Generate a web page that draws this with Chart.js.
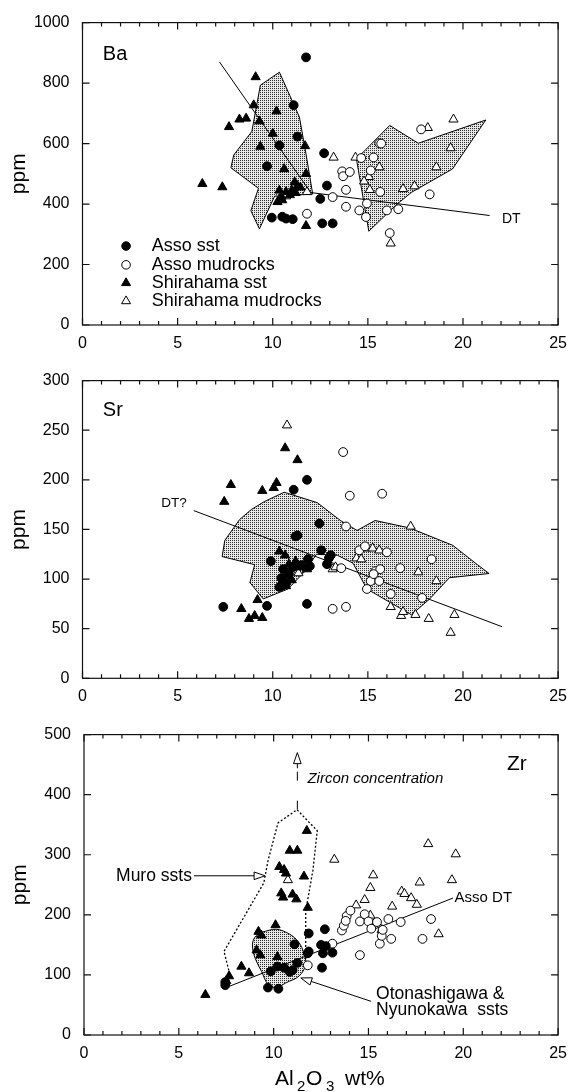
<!DOCTYPE html>
<html>
<head>
<meta charset="utf-8">
<script src="https://cdn.jsdelivr.net/npm/chart.js@4.4.1/dist/chart.umd.min.js"></script>
<style>
  html, body { margin: 0; padding: 0; background: #fff; }
  body { width: 576px; height: 1092px; position: relative; overflow: hidden; }
  .painel { position: absolute; left: 0; width: 576px; }
</style>
</head>
<body>
<div class="painel" style="top:0;height:358px"><canvas id="graficoBa"></canvas></div>
<div class="painel" style="top:358px;height:354px"><canvas id="graficoSr"></canvas></div>
<div class="painel" style="top:712px;height:380px"><canvas id="graficoZr"></canvas></div>
<script>
const fonte = '"Liberation Sans", Arial, Helvetica, sans-serif';

const series = ["Asso sst", "Asso mudrocks", "Shirahama sst", "Shirahama mudrocks"];
const alLimites = [0, 25];
const alPasso = 5;
const baLimites = [0, 1000];
const baPasso = 200;
const srLimites = [0, 300];
const srPasso = 50;
const zrLimites = [0, 500];
const zrPasso = 100;

// Ba (ppm) x Al2O3 (wt%)
const baAssoSst = [[11.75,885],[11.1,727],[11.3,623],[10.35,594],[9.7,525],[12.7,568],[12.85,461],[12.5,417],[9.95,355],[10.5,358],[10.7,352],[11.05,350],[12.6,336],[13.15,336]];
const baAssoMud = [[11.8,368],[13.15,423],[13.65,508],[13.7,492],[14.05,506],[13.85,447],[13.85,391],[14.55,379],[14.9,357],[14.95,402],[15.15,511],[15.3,554],[15.6,601],[15.7,600],[15.65,440],[16.0,379],[16.6,383],[16.15,304],[17.8,647],[18.25,432],[14.65,552]];
const baShiraSst = [[6.3,467],[7.35,456],[7.7,655],[8.25,680],[8.6,683],[9.1,820],[9.0,727],[9.3,674],[9.35,590],[10.2,707],[10.0,633],[10.6,516],[11.7,592],[11.75,500],[11.15,472],[11.3,460],[10.35,445],[10.25,407],[10.5,413],[10.9,430],[11.0,445],[11.2,437],[11.75,328],[10.7,440],[11.45,455],[10.45,425]];
const baShiraMud = [[10.7,426],[11.8,440],[13.2,554],[14.35,554],[15.6,522],[15.05,490],[14.8,475],[15.1,447],[16.85,450],[17.45,459],[18.15,652],[19.5,680],[19.35,585],[18.6,522],[16.2,270]];
const baCampoSst = [[10.35,836],[11.4,688],[11.75,565],[12.1,433],[10.1,426],[9.3,318],[8.85,378],[9.25,452],[7.8,520],[7.95,562],[8.9,640],[9.35,793]];
const baCampoMud = [[16.15,660],[17.65,601],[21.2,678],[19.45,516],[17.3,439],[16.5,398],[15.05,310],[14.4,549]];
const baDT = [[7.2,870],[12.0,438],[21.4,362]];

// Sr (ppm) x Al2O3 (wt%)
const srAssoSst = [[7.4,72],[9.7,73],[11.8,75],[11.8,200],[11.1,190],[12.45,156],[11.3,144],[9.9,118],[12.55,129],[13.05,124],[12.85,115],[11.85,120],[10.55,110],[10.45,101],[10.35,92],[10.85,105],[11.05,112],[11.5,114],[12.95,121],[10.7,96],[11.95,113],[11.2,143]];
const srAssoMud = [[13.7,228],[14.05,184],[15.75,186],[13.85,153],[13.15,70],[13.85,72],[13.6,111],[14.55,129],[14.85,133],[16.0,127],[18.35,120],[16.7,111],[15.4,108],[15.65,110],[15.15,98],[15.6,98],[14.95,90],[16.2,85],[17.85,81],[15.3,105]];
const srShiraSst = [[7.45,178],[7.8,195],[9.45,189],[10.2,197],[10.05,192],[10.65,232],[11.3,220],[8.35,70],[8.75,60],[9.05,63],[9.45,61],[9.2,79],[10.35,128],[10.65,124],[11.2,118],[11.0,99],[10.4,92],[10.7,93],[11.8,110],[11.4,112],[10.85,115]];
const srShiraMud = [[10.75,255],[17.25,153],[17.65,107],[18.6,98],[14.9,131],[15.25,131],[15.6,129],[14.4,121],[14.65,120],[13.15,110],[16.2,72],[16.75,63],[16.85,67],[17.5,64],[18.2,60],[19.35,46],[19.55,64],[11.35,106],[13.3,112]];
const srCampo = [[10.6,187.5],[12.34,177],[13.56,159],[14.43,149],[15.38,159],[17.2,151.5],[19.46,134],[20.76,114.5],[21.37,105.6],[19.29,101.4],[18.25,80],[17.29,64],[14.95,90],[14.22,116],[13.4,124],[12.3,125],[11.7,108],[10.8,90],[9.5,80],[8.8,96.5],[9.05,114.5],[7.34,122.7],[7.48,139],[8.26,160],[8.87,170],[9.55,178]];
const srDT = [[5.85,169],[22.05,52]];

// Zr (ppm) x Al2O3 (wt%)
const zrAssoSst = [[7.45,83],[7.45,88],[9.7,79],[10.25,77],[9.85,106],[10.2,114],[10.55,112],[10.85,105],[11.1,151],[11.85,169],[11.85,139],[12.55,112],[12.7,176],[12.5,150],[13.1,137],[12.6,136],[11.8,136],[11.25,120],[11.0,108],[12.75,148]];
const zrAssoMud = [[13.1,152],[11.8,116],[14.55,133],[13.6,174],[13.7,182],[13.85,198],[14.05,207],[13.8,190],[14.55,189],[14.8,201],[15.0,189],[15.15,177],[15.45,188],[15.6,152],[15.7,165],[15.75,175],[16.05,193],[16.2,160],[16.7,188],[17.85,160],[18.3,193]];
const zrShiraSst = [[6.4,67],[7.65,98],[8.3,114],[8.7,103],[9.2,172],[9.35,166],[10.1,183],[9.1,141],[9.3,133],[10.2,130],[10.3,280],[10.55,275],[10.65,269],[10.85,307],[11.25,307],[11.75,340],[11.6,264],[10.4,236],[10.5,229],[11.0,234],[11.2,226],[11.8,212],[7.5,90]];
const zrShiraMud = [[10.75,258],[13.2,292],[18.15,318],[19.6,301],[15.25,266],[15.1,245],[14.8,225],[14.35,216],[15.1,199],[16.25,214],[16.75,239],[16.9,235],[17.25,228],[17.55,217],[17.7,254],[19.4,258],[18.7,168],[15.7,175]];
const zrMuro = [[7.69,101],[7.38,139],[9.48,253],[9.71,291],[10.23,353],[11.23,375],[12.3,340],[12.07,274],[11.69,206],[11.69,125]];
const zrOtonashigawa = [[9.36,171],[10.14,176],[10.83,168],[11.31,155],[11.6,136],[11.69,117],[11.34,98],[10.66,87],[10.14,79],[9.71,84],[9.36,106],[9.02,128],[8.88,150],[9.02,163]];
const zrAssoDT = [[7.7,81.5],[19.46,228]];

const simbolos = [
  { forma: "circle", cheio: true },
  { forma: "circle", cheio: false },
  { forma: "triangle", cheio: true },
  { forma: "triangle", cheio: false }
];

const pts = arr => arr.map(p => ({ x: p[0], y: p[1] }));
const fechado = arr => pts(arr.concat([arr[0]]));

function pontilhado(ctx) {
  const c = document.createElement("canvas");
  c.width = 2; c.height = 2;
  const g = c.getContext("2d");
  g.fillStyle = "#e8e8e8";
  g.fillRect(0, 0, 2, 2);
  g.fillStyle = "#2a2a2a";
  g.fillRect(0, 0, 1, 1);
  return ctx.createPattern(c, "repeat");
}

function dsPontos(data, i) {
  const s = simbolos[i];
  return {
    type: "scatter",
    label: series[i],
    data: pts(data),
    pointStyle: s.forma,
    pointRadius: s.forma === "triangle" ? 5.3 : 4.4,
    pointBackgroundColor: s.cheio ? "#000" : "#fff",
    pointBorderColor: "#000",
    pointBorderWidth: 1,
    order: 1
  };
}

function dsLinha(data, extra) {
  return Object.assign({
    type: "line",
    data: pts(data),
    borderColor: "#000",
    borderWidth: 1,
    pointRadius: 0,
    fill: false,
    tension: 0,
    order: 5
  }, extra || {});
}

function dsCampo(data, textura, extra) {
  return Object.assign({
    type: "line",
    data: fechado(data),
    borderColor: "#000",
    borderWidth: 1,
    backgroundColor: textura,
    fill: "shape",
    pointRadius: 0,
    tension: 0,
    order: 10
  }, extra || {});
}

function marcador(ctx, s, x, y) {
  ctx.beginPath();
  if (s.forma === "circle") {
    ctx.arc(x, y, 4.3, 0, Math.PI * 2);
  } else {
    const r = 5.2;
    for (let i = 0; i < 3; i++) {
      const a = i * 2 * Math.PI / 3;
      const px = x + Math.sin(a) * r, py = y - Math.cos(a) * r;
      if (i) ctx.lineTo(px, py); else ctx.moveTo(px, py);
    }
    ctx.closePath();
  }
  ctx.fillStyle = s.cheio ? "#000" : "#fff";
  ctx.fill();
  ctx.lineWidth = 1;
  ctx.strokeStyle = "#000";
  ctx.stroke();
}

function seta(ctx, x1, y1, x2, y2, tracejado, cabeca) {
  const ang = Math.atan2(y2 - y1, x2 - x1);
  const comp = 11, meia = 3.8;
  const bx = cabeca ? x2 - Math.cos(ang) * comp : x2;
  const by = cabeca ? y2 - Math.sin(ang) * comp : y2;
  ctx.save();
  ctx.strokeStyle = "#000";
  ctx.lineWidth = 1;
  ctx.setLineDash(tracejado || []);
  ctx.beginPath();
  ctx.moveTo(x1, y1);
  ctx.lineTo(bx, by);
  ctx.stroke();
  ctx.setLineDash([]);
  if (cabeca) {
    ctx.beginPath();
    ctx.moveTo(x2, y2);
    ctx.lineTo(bx + Math.sin(ang) * meia, by - Math.cos(ang) * meia);
    ctx.lineTo(bx - Math.sin(ang) * meia, by + Math.cos(ang) * meia);
    ctx.closePath();
    ctx.fillStyle = "#fff";
    ctx.fill();
    ctx.stroke();
  }
  ctx.restore();
}

function criarGrafico(id, datasets, eixoY, geo, extras) {
  const moldura = {
    id: "moldura",
    afterDatasetsDraw(chart) {
      const { ctx, chartArea: a, scales: { x, y } } = chart;
      ctx.save();
      ctx.strokeStyle = "#111";
      ctx.lineWidth = 1.2;
      ctx.strokeRect(a.left, a.top, a.right - a.left, a.bottom - a.top);
      ctx.beginPath();
      for (let v = x.min; v <= x.max; v += 1) {
        const px = x.getPixelForValue(v);
        const len = v % 5 === 0 ? 7 : 4;
        ctx.moveTo(px, a.bottom); ctx.lineTo(px, a.bottom - len);
        ctx.moveTo(px, a.top); ctx.lineTo(px, a.top + len);
      }
      y.ticks.forEach(t => {
        const py = y.getPixelForValue(t.value);
        ctx.moveTo(a.left, py); ctx.lineTo(a.left + 7, py);
        ctx.moveTo(a.right, py); ctx.lineTo(a.right - 7, py);
      });
      ctx.stroke();

      // ppm
      ctx.translate(geo.ppmX, (a.top + a.bottom) / 2);
      ctx.rotate(-Math.PI / 2);
      ctx.fillStyle = "#000";
      ctx.font = "21px " + fonte;
      ctx.textAlign = "center";
      ctx.textBaseline = "middle";
      ctx.fillText("ppm", 0, 0);
      ctx.restore();
    }
  };

  const anotacoes = {
    id: "anotacoes",
    afterDatasetsDraw(chart) {
      const { ctx, chartArea: a, scales: { x, y } } = chart;
      ctx.save();
      ctx.fillStyle = "#000";
      ctx.textBaseline = "middle";
      ctx.textAlign = "left";
      (extras.textos || []).forEach(t => {
        ctx.font = (t.italico ? "italic " : "") + t.px + "px " + fonte;
        ctx.fillText(t.t, x.getPixelForValue(t.x), y.getPixelForValue(t.y));
      });
      (extras.setas || []).forEach(s => {
        seta(ctx, x.getPixelForValue(s.de[0]), y.getPixelForValue(s.de[1]),
          x.getPixelForValue(s.para[0]), y.getPixelForValue(s.para[1]),
          s.tracejado, s.cabeca !== false);
      });
      if (extras.legenda) {
        const L = extras.legenda;
        ctx.font = "18px " + fonte;
        series.forEach((nome, i) => {
          const py = y.getPixelForValue(L.ys[i]);
          marcador(ctx, simbolos[i], x.getPixelForValue(L.x), py);
          ctx.fillStyle = "#000";
          ctx.fillText(nome, x.getPixelForValue(L.tx), py);
        });
      }
      if (extras.tituloX) {
        const base = a.bottom + 50;
        const x0 = a.left;
        ctx.textBaseline = "alphabetic";
        ctx.font = "21px " + fonte;
        ctx.fillText("Al", x0 + 191, base);
        ctx.fillText("O", x0 + 222, base);
        ctx.fillText("wt%", x0 + 261, base);
        ctx.font = "15px " + fonte;
        ctx.fillText("2", x0 + 213, base + 6);
        ctx.fillText("3", x0 + 242, base + 6);
      }
      ctx.restore();
    }
  };

  const ctx = document.getElementById(id).getContext("2d");
  return new Chart(ctx, {
    type: "scatter",
    data: { datasets: datasets(pontilhado(ctx)) },
    options: {
      responsive: true,
      maintainAspectRatio: false,
      animation: false,
      events: [],
      layout: { padding: { top: geo.topo, right: geo.direita, left: 0, bottom: 0 } },
      plugins: {
        legend: { display: false },
        tooltip: { enabled: false }
      },
      scales: {
        x: {
          type: "linear",
          min: alLimites[0],
          max: alLimites[1],
          grid: { display: false, drawTicks: false },
          border: { display: false },
          ticks: {
            stepSize: alPasso,
            maxRotation: 0,
            autoSkip: false,
            padding: 9,
            color: "#000",
            font: { family: fonte, size: 16 }
          },
          afterFit: s => { s.height = geo.alturaX; }
        },
        y: {
          type: "linear",
          min: eixoY[0],
          max: eixoY[1],
          grid: { display: false, drawTicks: false },
          border: { display: false },
          ticks: {
            stepSize: eixoY[2],
            padding: 13,
            color: "#000",
            font: { family: fonte, size: 16 },
            callback: v => String(v)
          },
          afterFit: s => { s.width = geo.esquerda; }
        }
      }
    },
    plugins: [moldura, anotacoes]
  });
}

criarGrafico("graficoBa", textura => [
  dsCampo(baCampoSst, textura),
  dsCampo(baCampoMud, textura),
  dsLinha(baDT),
  dsPontos(baAssoSst, 0),
  dsPontos(baAssoMud, 1),
  dsPontos(baShiraSst, 2),
  dsPontos(baShiraMud, 3)
], [baLimites[0], baLimites[1], baPasso],
{ topo: 19.5, direita: 11, esquerda: 82.5, alturaX: 33, ppmX: 19 },
{
  textos: [
    { t: "Ba", x: 1.07, y: 893, px: 20 },
    { t: "DT", x: 22.05, y: 350, px: 14 }
  ],
  legenda: { x: 2.29, tx: 3.64, ys: [261, 199, 139, 79] }
});

criarGrafico("graficoSr", textura => [
  dsCampo(srCampo, textura),
  dsLinha(srDT),
  dsPontos(srAssoSst, 0),
  dsPontos(srAssoMud, 1),
  dsPontos(srShiraSst, 2),
  dsPontos(srShiraMud, 3)
], [srLimites[0], srLimites[1], srPasso],
{ topo: 14.5, direita: 11, esquerda: 82.5, alturaX: 33.7, ppmX: 19 },
{
  textos: [
    { t: "Sr", x: 1.07, y: 270, px: 20 },
    { t: "DT?", x: 4.14, y: 176, px: 13.5 }
  ]
});

criarGrafico("graficoZr", textura => [
  dsCampo(zrOtonashigawa, textura, { tension: 0.35 }),
  dsLinha(zrMuro, { borderDash: [2, 2], borderWidth: 1.3 }),
  dsLinha(zrAssoDT),
  dsPontos(zrAssoSst, 0),
  dsPontos(zrAssoMud, 1),
  dsPontos(zrShiraSst, 2),
  dsPontos(zrShiraMud, 3)
], [zrLimites[0], zrLimites[1], zrPasso],
{ topo: 16.3, direita: 9, esquerda: 84, alturaX: 57, ppmX: 20 },
{
  textos: [
    { t: "Zr", x: 22.3, y: 450, px: 21 },
    { t: "Zircon concentration", x: 11.78, y: 426, px: 15, italico: true },
    { t: "Muro ssts", x: 1.69, y: 265, px: 17.5 },
    { t: "Asso DT", x: 19.54, y: 228, px: 15 },
    { t: "Otonashigawa &", x: 15.4, y: 68, px: 17.5 },
    { t: "Nyunokawa  ssts", x: 15.4, y: 40.5, px: 17.5 }
  ],
  setas: [
    { de: [5.8, 265], para: [9.55, 265] },
    { de: [15.14, 56], para: [11.43, 95] },
    { de: [11.25, 375], para: [11.25, 440], tracejado: [9, 20], cabeca: false },
    { de: [11.25, 444], para: [11.25, 470] }
  ],
  tituloX: true
});
</script>
</body>
</html>
